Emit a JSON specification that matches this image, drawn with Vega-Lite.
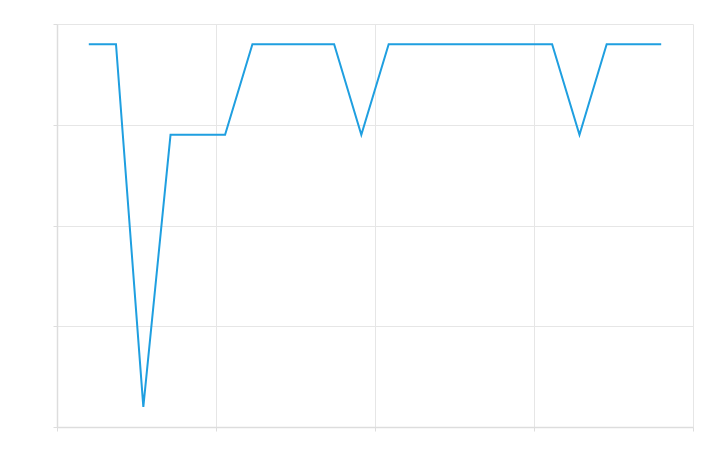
{
  "$schema": "https://vega.github.io/schema/vega-lite/v6.json",
  "autosize": {"type": "none"},
  "width": 636,
  "height": 403,
  "padding": {"left": 57, "top": 24, "right": 22, "bottom": 27},
  "background": "white",
  "config": {"view": {"stroke": null}},
  "data": {"values": [
    {"x": 0.2, "y": 3.8},
    {"x": 0.371, "y": 3.8},
    {"x": 0.543, "y": 0.2},
    {"x": 0.714, "y": 2.9},
    {"x": 0.886, "y": 2.9},
    {"x": 1.057, "y": 2.9},
    {"x": 1.229, "y": 3.8},
    {"x": 1.4, "y": 3.8},
    {"x": 1.571, "y": 3.8},
    {"x": 1.743, "y": 3.8},
    {"x": 1.914, "y": 2.9},
    {"x": 2.086, "y": 3.8},
    {"x": 2.257, "y": 3.8},
    {"x": 2.429, "y": 3.8},
    {"x": 2.6, "y": 3.8},
    {"x": 2.771, "y": 3.8},
    {"x": 2.943, "y": 3.8},
    {"x": 3.114, "y": 3.8},
    {"x": 3.286, "y": 2.9},
    {"x": 3.457, "y": 3.8},
    {"x": 3.629, "y": 3.8},
    {"x": 3.8, "y": 3.8}
  ]},
  "mark": {"type": "line", "color": "#1f9fe0", "strokeWidth": 2},
  "encoding": {
    "x": {
      "field": "x", "type": "quantitative",
      "scale": {"domain": [0, 4], "nice": false, "zero": false},
      "axis": {
        "title": null, "labels": false, "values": [0, 1, 2, 3, 4],
        "grid": true, "gridColor": "#e6e6e6",
        "domainColor": "#dddddd", "domainWidth": 1.5,
        "tickColor": "#dddddd", "tickSize": 4
      }
    },
    "y": {
      "field": "y", "type": "quantitative",
      "scale": {"domain": [0, 4], "nice": false},
      "axis": {
        "title": null, "labels": false, "values": [0, 1, 2, 3, 4],
        "grid": true, "gridColor": "#e6e6e6",
        "domainColor": "#dddddd", "domainWidth": 1.5,
        "tickColor": "#dddddd", "tickSize": 4
      }
    }
  }
}
